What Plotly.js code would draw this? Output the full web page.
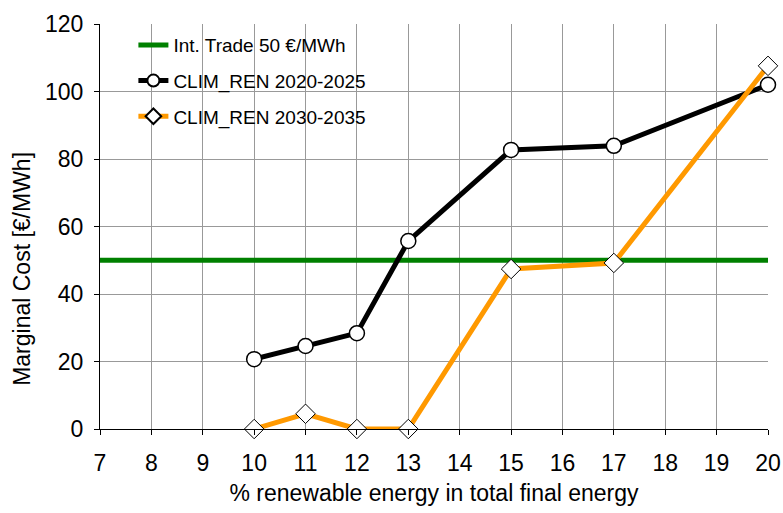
<!DOCTYPE html>
<html><head><meta charset="utf-8">
<script src="https://cdn.plot.ly/plotly-3.0.1.min.js"></script>
<style>body{margin:0;background:#fff}#c{width:783px;height:513px}</style>
</head><body><div id="c"></div>
<script>
const tradeX = [7, 20];
const tradeY = [50, 50];
const renX = [10, 11, 12, 13, 15, 17, 20];
const ren2020 = [20.7, 24.6, 28.4, 55.7, 82.7, 83.9, 102];
const ren2030 = [0, 4.5, 0, 0, 47.4, 49.2, 107.6];
const xTicks = [7,8,9,10,11,12,13,14,15,16,17,18,19,20];

const traces = [
  {x: tradeX, y: tradeY, mode: 'lines', name: 'Int. Trade 50 €/MWh', legendgroup: 'a',
   line: {color: '#008000', width: 5}, cliponaxis: false},
  {x: renX, y: ren2020, mode: 'lines+markers', name: 'CLIM_REN 2020-2025', legendgroup: 'b',
   line: {color: '#000000', width: 5}, cliponaxis: false,
   marker: {symbol: 'circle', size: 15, color: '#ffffff', line: {color: '#000000', width: 1.5}}},
  {x: renX, y: ren2030, mode: 'lines+markers', name: 'CLIM_REN 2030-2035', legendgroup: 'c',
   line: {color: '#FF9900', width: 5}, cliponaxis: false,
   marker: {symbol: 'diamond', size: 15, color: '#ffffff', line: {color: '#000000', width: 1}}}
];
const layout = {
  width: 783, height: 513,
  margin: {l: 100, r: 15, t: 24, b: 84},
  paper_bgcolor: '#fff', plot_bgcolor: '#fff',
  font: {family: 'Liberation Sans, Arial, sans-serif', color: '#000', size: 23},
  showlegend: true,
  legend: {x: 0.05, y: 0.995, xanchor: 'left', yanchor: 'top', bgcolor: 'rgba(0,0,0,0)',
           font: {size: 19}, tracegroupgap: 8, traceorder: 'grouped', itemsizing: 'constant'},
  xaxis: {range: [7, 20], tickvals: xTicks, ticktext: xTicks.map(String),
          showgrid: true, gridcolor: '#999', gridwidth: 1,
          zeroline: false, showline: true, linecolor: '#000', linewidth: 1,
          ticks: 'outside', ticklen: 5, tickcolor: '#000', ticklabelstandoff: 8,
          tickfont: {size: 23},
          title: {text: '% renewable energy in total final energy', font: {size: 23}, standoff: 10}},
  yaxis: {range: [0, 120], dtick: 20,
          showgrid: true, gridcolor: '#999', gridwidth: 1,
          zeroline: false, showline: true, linecolor: '#000', linewidth: 1,
          ticks: 'outside', ticklen: 5, tickcolor: '#000', ticklabelstandoff: 6,
          tickfont: {size: 23}},
  annotations: [{text: 'Marginal Cost [€/MWh]', textangle: -90, showarrow: false,
                 xref: 'paper', yref: 'paper', x: -0.117, y: 0.395,
                 xanchor: 'center', yanchor: 'middle', font: {size: 23}}]
};
Plotly.newPlot('c', traces, layout, {displayModeBar: false});
</script></body></html>
